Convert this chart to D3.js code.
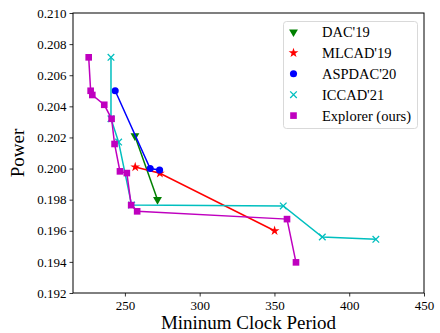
<!DOCTYPE html>
<html>
<head>
<meta charset="utf-8">
<script src="https://cdn.jsdelivr.net/npm/d3@7"></script>
<style>
  body { margin: 0; background: #fff; }
  svg text { font-family: "Liberation Serif", "DejaVu Serif", serif; }
</style>
</head>
<body>
<div id="chart"></div>
<script>
// Data
var dacX = [256.7, 271.8];
var dacY = [0.2021, 0.1980];

var mlcadX = [256.9, 273.4, 350.1];
var mlcadY = [0.2001, 0.1997, 0.1960];

var aspdacX = [243.5, 266.9, 273.2];
var aspdacY = [0.2050, 0.2000, 0.1999];

var iccadX = [240.7, 240.7, 245.8, 254.5, 355.9, 382.0, 417.8];
var iccadY = [0.20715, 0.2032, 0.2017, 0.19765, 0.1976, 0.1956, 0.19545];

var explorerX = [225.8, 227.1, 228.2, 236.2, 241.1, 243.1, 246.7, 251.3, 254.2, 258.2, 358.4, 364.4];
var explorerY = [0.20715, 0.2050, 0.20473, 0.2041, 0.2032, 0.20158, 0.19982, 0.19971, 0.19765, 0.19725, 0.19675, 0.19397];

var xTicks = [250, 300, 350, 400, 450];
var yTicks = [0.192, 0.194, 0.196, 0.198, 0.200, 0.202, 0.204, 0.206, 0.208, 0.210];

var seriesNames = ["DAC'19", "MLCAD'19", "ASPDAC'20", "ICCAD'21", "Explorer (ours)"];
var seriesColors = ['green', 'red', 'blue', '#00bfbf', '#bf00bf'];
var seriesMarkers = ['triangle', 'star', 'circle', 'cross', 'square'];

var serif = '"Liberation Serif", "DejaVu Serif", serif';
var width = 440, height = 333;
var margin = {left: 73, right: 16, top: 13, bottom: 40};

var svg = d3.select('#chart')
  .append('svg')
    .attr('width', width)
    .attr('height', height);

var x = d3.scaleLinear().domain([215.3, 450]).range([margin.left, width - margin.right]);
var y = d3.scaleLinear().domain([0.192, 0.210]).range([height - margin.bottom, margin.top]);

//Axes
var xAxis = svg.append('g')
  .attr('transform', 'translate(0,' + (height - margin.bottom) + ')')
  .call(d3.axisBottom(x).tickValues(xTicks).tickSizeInner(3.5).tickSizeOuter(0).tickFormat(d3.format('d')));
var yAxis = svg.append('g')
  .attr('transform', 'translate(' + margin.left + ',0)')
  .call(d3.axisLeft(y).tickValues(yTicks).tickSizeInner(3.5).tickSizeOuter(0).tickFormat(d3.format('.3f')));

xAxis.attr('font-family', serif).attr('font-size', 13);
yAxis.attr('font-family', serif).attr('font-size', 13);
svg.selectAll('.tick text').attr('fill', '#000');
xAxis.selectAll('.tick text').attr('dy', '0.78em');
svg.selectAll('.tick line').attr('stroke', '#000').attr('stroke-width', 0.8);
svg.selectAll('.domain').remove();

//Frame
svg.append('rect')
  .attr('x', margin.left)
  .attr('y', margin.top)
  .attr('width', width - margin.left - margin.right)
  .attr('height', height - margin.top - margin.bottom)
  .attr('fill', 'none')
  .attr('stroke', '#000')
  .attr('stroke-width', 1);

//Axis labels
svg.append('text')
  .attr('x', (margin.left + width - margin.right) / 2)
  .attr('y', 329)
  .attr('text-anchor', 'middle')
  .attr('font-size', 19)
  .text('Mininum Clock Period');
svg.append('text')
  .attr('transform', 'translate(24,' + ((margin.top + height - margin.bottom) / 2) + ') rotate(-90)')
  .attr('text-anchor', 'middle')
  .attr('font-size', 19)
  .text('Power');

//Marker symbols
var symbolFor = function(m){
  if (m === 'triangle') return d3.symbol().type(d3.symbolTriangle).size(34)();
  if (m === 'star') return d3.symbol().type(d3.symbolStar).size(30)();
  if (m === 'circle') return d3.symbol().type(d3.symbolCircle).size(40)();
  if (m === 'cross') return d3.symbol().type(d3.symbolTimes).size(30)();
  return d3.symbol().type(d3.symbolSquare).size(44)();
};

var drawMarker = function(g, m, color, px, py){
  var p = g.append('path')
    .attr('d', symbolFor(m))
    .attr('transform', 'translate(' + px + ',' + py + ')' + (m === 'triangle' ? ' rotate(180)' : ''));
  if (m === 'cross') {
    p.attr('fill', 'none').attr('stroke', color).attr('stroke-width', 1.3);
  } else {
    p.attr('fill', color);
  }
};

var allX = [dacX, mlcadX, aspdacX, iccadX, explorerX];
var allY = [dacY, mlcadY, aspdacY, iccadY, explorerY];

var line = d3.line()
  .x(function(d){ return x(d[0]); })
  .y(function(d){ return y(d[1]); });

for (var s = 0; s < seriesNames.length; s++) {
  var pts = allX[s].map(function(v, i){ return [v, allY[s][i]]; });
  var g = svg.append('g');
  g.append('path')
    .attr('d', line(pts))
    .attr('fill', 'none')
    .attr('stroke', seriesColors[s])
    .attr('stroke-width', 1.5);
  pts.forEach(function(p){
    drawMarker(g, seriesMarkers[s], seriesColors[s], x(p[0]), y(p[1]));
  });
}

//Legend
var legend = svg.append('g');
legend.append('rect')
  .attr('x', 283.5)
  .attr('y', 21.5)
  .attr('width', 134)
  .attr('height', 107)
  .attr('rx', 3)
  .attr('fill', 'rgba(255,255,255,0.8)')
  .attr('stroke', '#d9d9d9')
  .attr('stroke-width', 1);

seriesNames.forEach(function(name, i){
  var ly = 32 + i * 20.9;
  drawMarker(legend, seriesMarkers[i], seriesColors[i], 293.5, ly);
  legend.append('text')
    .attr('x', 322)
    .attr('y', ly)
    .attr('dy', '0.35em')
    .attr('font-size', 14.5)
    .text(name);
});
</script>
</body>
</html>
